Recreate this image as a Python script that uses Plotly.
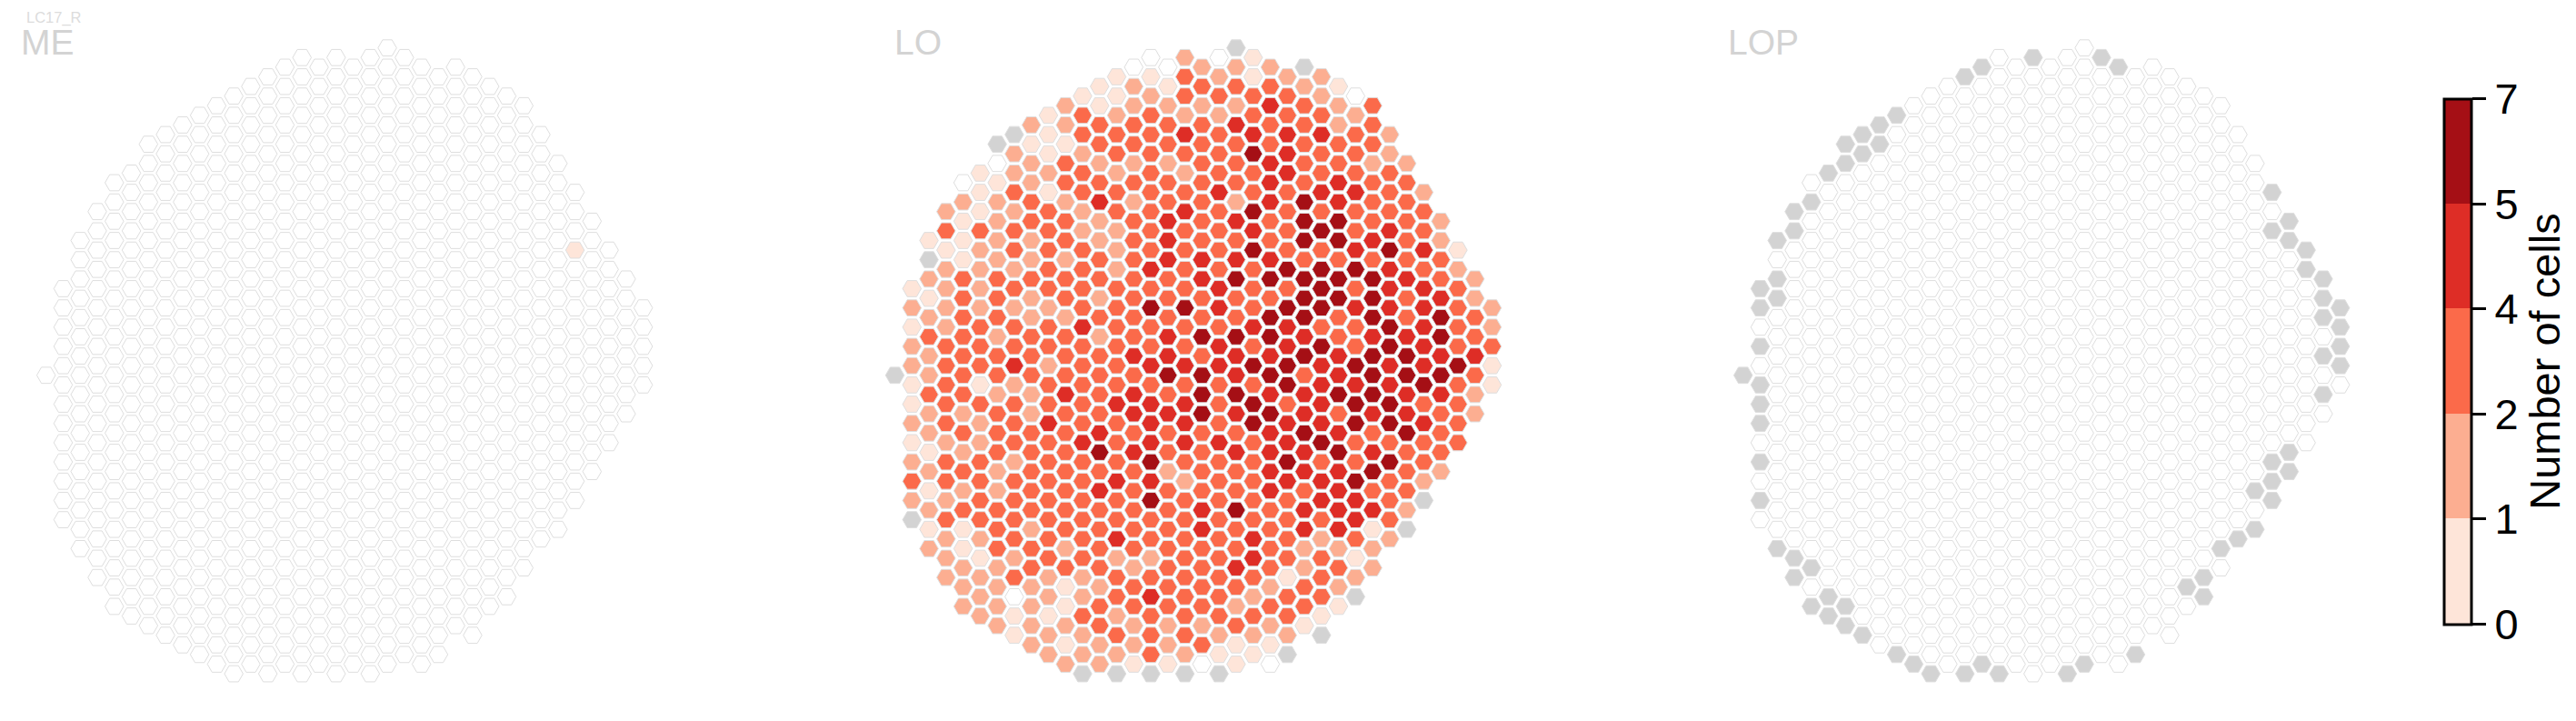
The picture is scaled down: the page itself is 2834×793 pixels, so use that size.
import plotly.graph_objects as go

W, H = 2834, 793
M = -1  # column present but no data (grey hexagon)

# colour-bin level of every hexagon in LO, one list per hex-grid column, top to bottom
# 0 = empty, 1..5 = colour bins of the colour bar, M = missing
column_start = [34, 25, 20, 17, 14, 13, 10, 9, 8, 7, 6, 5, 4, 3, 2, 1, 2, 1,
                2, 1, 0, 1, 2, 3, 2, 3, 4, 5, 6, 9, 12, 15, 18, 21, 24, 27]

lo_c00 = [M]
lo_c01 = [1, 2, 1, 2, 2, 1, 1, 2, 1, 2, 3, 2, M]
lo_c02 = [1, M, 2, 1, 2, 3, 2, 2, 3, 2, 2, 1, 2, 1, 2, 1, 2]
lo_c03 = [2, 3, 1, 2, 2, 2, 2, 3, 3, 3, 3, 3, 2, 3, 3, 2, 3, 2, 2, 2]
lo_c04 = [0, 2, 1, 1, 1, 3, 3, 3, 3, 3, 3, 3, 2, 3, 2, 3, 2, 3, 1, 1, 2, 2, 2]
lo_c05 = [1, 1, 1, 3, 2, 2, 2, 2, 3, 3, 3, 1, 3, 2, 2, 3, 3, 3, 3, 2, 1, 2, 2, 2]
lo_c06 = [M, 0, 1, 2, 2, 2, 2, 3, 3, 3, 2, 3, 3, 2, 3, 3, 3, 2, 2, 3, 3, 3, 2, 2, 2, 2]
lo_c07 = [M, 2, 2, 3, 2, 3, 3, 2, 3, 2, 3, 3, 4, 2, 3, 3, 3, 2, 3, 3, 3, 3, 2, 3, 0, 1, 1]
lo_c08 = [2, 1, 2, 2, 3, 3, 2, 2, 3, 2, 2, 3, 3, 3, 2, 2, 3, 3, 3, 3, 3, 2, 3, 3, 2, 2, 2, 2]
lo_c09 = [1, 1, 1, 2, 1, 3, 3, 3, 3, 3, 2, 3, 3, 2, 3, 3, 4, 3, 3, 3, 3, 3, 3, 3, 2, 2, 1, 2, 2]
lo_c10 = [2, 2, 1, 3, 3, 2, 3, 3, 2, 3, 3, 2, 3, 3, 3, 4, 3, 3, 3, 3, 3, 3, 3, 2, 3, 1, 1, 2, 1, 2]
lo_c11 = [1, 3, 3, 2, 3, 3, 2, 2, 3, 3, 3, 3, 4, 3, 3, 3, 3, 3, 4, 3, 3, 3, 3, 3, 3, 2, 2, 3, 2, 2, M]
lo_c12 = [1, 1, 3, 3, 2, 3, 4, 2, 2, 3, 3, 2, 3, 2, 3, 3, 3, 3, 4, 5, 3, 4, 3, 3, 3, 3, 2, 3, 3, 2, 2]
lo_c13 = [1, 1, 2, 3, 3, 2, 3, 3, 2, 2, 2, 3, 3, 3, 3, 3, 3, 4, 3, 3, 3, 4, 3, 3, 4, 2, 3, 3, 2, 3, 2, M]
lo_c14 = [0, 2, 2, 3, 3, 2, 3, 2, 3, 3, 3, 3, 3, 3, 3, 4, 3, 4, 4, 3, 4, 3, 3, 3, 3, 3, 2, 3, 3, 2, 2, 1]
lo_c15 = [0, 1, 2, 3, 3, 3, 3, 3, 3, 3, 3, 4, 3, 5, 3, 3, 4, 3, 4, 4, 4, 5, 4, 5, 3, 3, 2, 3, 4, 3, 3, 3, M]
lo_c16 = [0, 1, 2, 3, 3, 2, 3, 3, 4, 4, 4, 3, 3, 3, 4, 4, 5, 3, 4, 3, 3, 2, 3, 3, 3, 3, 3, 3, 3, 2, 2, 1]
lo_c17 = [2, 3, 3, 2, 4, 3, 2, 3, 4, 3, 3, 3, 3, 5, 3, 3, 4, 3, 4, 4, 4, 3, 2, 3, 3, 3, 3, 3, 3, 3, 3, 2, M]
lo_c18 = [2, 3, 2, 3, 3, 3, 3, 3, 3, 3, 4, 4, 3, 3, 5, 3, 5, 5, 5, 3, 3, 3, 3, 4, 4, 3, 3, 3, 3, 2, 3, 0]
lo_c19 = [0, 2, 3, 2, 3, 3, 3, 4, 3, 3, 3, 3, 4, 4, 3, 4, 4, 3, 3, 3, 4, 3, 3, 3, 3, 3, 3, 3, 3, 3, 2, 1, M]
lo_c20 = [M, 2, 3, 2, 4, 3, 3, 3, 2, 4, 3, 4, 5, 3, 3, 5, 4, 4, 5, 4, 3, 4, 3, 3, 5, 3, 3, 4, 3, 2, 3, 1, 1]
lo_c21 = [1, 1, 3, 3, 4, 5, 3, 3, 5, 4, 5, 3, 3, 3, 4, 3, 5, 3, 5, 5, 3, 3, 3, 3, 3, 4, 4, 3, 2, 3, 2, 1]
lo_c22 = [2, 3, 4, 3, 3, 4, 4, 4, 3, 3, 4, 5, 3, 5, 5, 4, 5, 4, 5, 4, 4, 4, 4, 3, 3, 3, 3, 2, 3, 2, 1, 0]
lo_c23 = [2, 3, 3, 4, 4, 4, 3, 3, 3, 3, 5, 3, 5, 4, 4, 5, 5, 3, 4, 4, 5, 4, 3, 3, 3, 3, 1, 3, 3, 2, M]
lo_c24 = [M, 2, 3, 3, 3, 3, 3, 5, 5, 5, 3, 5, 5, 5, 4, 5, 3, 4, 4, 5, 4, 4, 3, 4, 4, 2, 2, 3, 3, 1]
lo_c25 = [2, 2, 3, 4, 3, 3, 4, 3, 5, 3, 5, 5, 5, 3, 5, 4, 4, 4, 4, 5, 3, 4, 4, 3, 2, 3, 3, 3, 1, M]
lo_c26 = [1, 2, 2, 3, 3, 4, 4, 5, 5, 3, 5, 5, 3, 3, 4, 4, 5, 3, 4, 5, 4, 4, 4, 4, 2, 3, 2, 1]
lo_c27 = [0, 2, 3, 3, 3, 4, 3, 3, 4, 5, 3, 4, 3, 3, 5, 4, 5, 5, 3, 3, 5, 4, 4, 3, 1, 2, M]
lo_c28 = [3, 3, 3, 2, 3, 3, 3, 4, 3, 5, 5, 5, 4, 5, 5, 5, 4, 3, 4, 5, 3, 4, 1, 2, 2]
lo_c29 = [2, 2, 3, 3, 3, 4, 5, 4, 4, 4, 5, 5, 4, 4, 5, 5, 3, 5, 3, 3, 3, 2]
lo_c30 = [2, 3, 3, 3, 3, 3, 4, 3, 3, 4, 5, 5, 4, 4, 5, 3, 3, 3, 2, M]
lo_c31 = [2, 3, 3, 4, 3, 4, 4, 4, 4, 4, 5, 3, 4, 3, 3, 2, M]
lo_c32 = [2, 2, 3, 3, 4, 5, 5, 4, 5, 4, 3, 3, 3, 2]
lo_c33 = [1, 2, 3, 3, 3, 3, 5, 3, 3, 3, 3]
lo_c34 = [2, 2, 3, 3, 4, 3, 2, 2]
lo_c35 = [2, 2, 3, 1, 1]

lo_columns = [lo_c00, lo_c01, lo_c02, lo_c03, lo_c04, lo_c05, lo_c06, lo_c07, lo_c08,
              lo_c09, lo_c10, lo_c11, lo_c12, lo_c13, lo_c14, lo_c15, lo_c16, lo_c17,
              lo_c18, lo_c19, lo_c20, lo_c21, lo_c22, lo_c23, lo_c24, lo_c25, lo_c26,
              lo_c27, lo_c28, lo_c29, lo_c30, lo_c31, lo_c32, lo_c33, lo_c34, lo_c35]

# ME: only one occupied hexagon
me_hit_col = [31]
me_hit_row = [21]
me_hit_level = [1]

# LOP: every hexagon is empty except these grey (missing) ones
lop_missing_col = [14, 13, 9, 8, 7, 6, 8, 7, 6, 5, 4, 3, 3, 2, 2, 1, 2, 1, 1, 0, 1, 1, 1, 1, 1,
                   2, 3, 4, 3, 5, 4, 6, 5, 6, 7, 9, 10, 11, 13, 14, 15,
                   17, 21, 22, 31, 32, 31, 32, 33, 33, 34, 34, 35, 34, 35, 35, 34, 35, 34,
                   32, 31, 32, 31, 30, 31, 30, 29, 28, 27, 26, 27, 23, 20, 19]
lop_missing_row = [2, 3, 7, 8, 9, 10, 10, 11, 12, 13, 16, 17, 19, 20, 24, 25, 26, 27, 31, 34, 35, 37, 39, 43, 47,
                   52, 53, 54, 55, 57, 58, 58, 59, 60, 61, 63, 64, 65, 65, 64, 65,
                   1, 1, 2, 15, 18, 19, 20, 21, 23, 24, 26, 27, 28, 29, 31, 32, 33, 36,
                   42, 43, 44, 45, 46, 47, 50, 51, 52, 55, 56, 57, 63, 64, 65]

bin_colors = ["#fee5d9", "#fcae91", "#fb6a4a", "#de2d26", "#a50f15"]
tick_labels = ["0", "1", "2", "4", "5", "7"]
panel_names = ["ME", "LO", "LOP"]
super_title = "LC17_R"
cbar_title = "Number of cells"

# ---- layout constants (pixels)
COL_W, ROW_H = 18.77, 10.59
ORIGIN_X = [50.7, 984.5, 1917.7]
ORIGIN_Y = 52.7
C0, C1, R0, R1 = -1.5, 36.5, -2.5, 67.5
HEX_SIZE = 20.5
EDGE = "#dedede"
GREY = "#d3d3d3"


def level_color(v):
    if v == M:
        return GREY
    if v == 0:
        return "#ffffff"
    return bin_colors[v - 1]


def grid_cells():
    cols, rows = [], []
    for c, vals in enumerate(lo_columns):
        for i in range(len(vals)):
            cols.append(c)
            rows.append(column_start[c] + 2 * i)
    return cols, rows


cols, rows = grid_cells()
lo_levels = [v for vals in lo_columns for v in vals]
me_levels = [0] * len(cols)
for c, r, v in zip(me_hit_col, me_hit_row, me_hit_level):
    me_levels[list(zip(cols, rows)).index((c, r))] = v
lop_levels = [0] * len(cols)
for c, r in zip(lop_missing_col, lop_missing_row):
    lop_levels[list(zip(cols, rows)).index((c, r))] = M

fig = go.Figure()
for i, levels in enumerate([me_levels, lo_levels, lop_levels]):
    suffix = "" if i == 0 else str(i + 1)
    fig.add_trace(go.Scatter(
        x=cols, y=rows, mode="markers", hoverinfo="skip", showlegend=False,
        xaxis="x" + suffix, yaxis="y" + suffix, cliponaxis=False,
        marker=dict(symbol="hexagon2", size=HEX_SIZE,
                    color=[level_color(v) for v in levels],
                    line=dict(color=EDGE, width=1), opacity=1),
    ))
    axis_common = dict(visible=False, showgrid=False, zeroline=False, fixedrange=True)
    fig.update_layout(**{
        "xaxis" + suffix: dict(range=[C0, C1], anchor="y" + suffix,
                               domain=[(ORIGIN_X[i] + COL_W * C0) / W, (ORIGIN_X[i] + COL_W * C1) / W],
                               **axis_common),
        "yaxis" + suffix: dict(range=[R1, R0], anchor="x" + suffix,
                               domain=[1 - (ORIGIN_Y + ROW_H * R1) / H, 1 - (ORIGIN_Y + ROW_H * R0) / H],
                               **axis_common),
    })

# colour bar
n = len(bin_colors)
scale = []
for i, col in enumerate(bin_colors):
    scale += [[i / n, col], [(i + 1) / n, col]]
fig.add_trace(go.Scatter(
    x=[None], y=[None], mode="markers", hoverinfo="skip", showlegend=False, xaxis="x2", yaxis="y2",
    marker=dict(color=[0, n], cmin=0, cmax=n, colorscale=scale, showscale=True,
                colorbar=dict(
                    xref="paper", yref="paper", x=2688.5 / W, xanchor="left", xpad=0,
                    y=1 - 397.5 / H, yanchor="middle", ypad=0,
                    len=578, lenmode="pixels", thickness=29.5, thicknessmode="pixels",
                    outlinecolor="black", outlinewidth=3,
                    tickmode="array", tickvals=list(range(n + 1)), ticktext=tick_labels,
                    ticks="outside", ticklen=15, tickwidth=3, tickcolor="black",
                    tickfont=dict(family="Liberation Sans", size=47, color="black"),
                    title=dict(text=cbar_title, side="right",
                               font=dict(family="Liberation Sans", size=47, color="black")),
                )),
))

annotations = []
for name, x in zip(panel_names, [21, 982, 1899]):
    annotations.append(dict(text=name, x=x / W, y=1 - 70.5 / H, xref="paper", yref="paper",
                            xanchor="left", yanchor="bottom", showarrow=False, xshift=0,
                            font=dict(family="Liberation Sans", size=39, color=GREY)))
annotations.append(dict(text=super_title, x=27 / W, y=1 - 31 / H, xref="paper", yref="paper",
                        xanchor="left", yanchor="bottom", showarrow=False,
                        font=dict(family="Liberation Sans", size=16.5, color="#dcdcdc")))

fig.update_layout(width=W, height=H, margin=dict(l=0, r=0, t=0, b=0, pad=0),
                  paper_bgcolor="white", plot_bgcolor="white", showlegend=False,
                  annotations=annotations)

fig.write_html("out.html", config={"displayModeBar": False},
               post_script="document.body.style.margin='0';document.body.style.overflow='hidden';")
